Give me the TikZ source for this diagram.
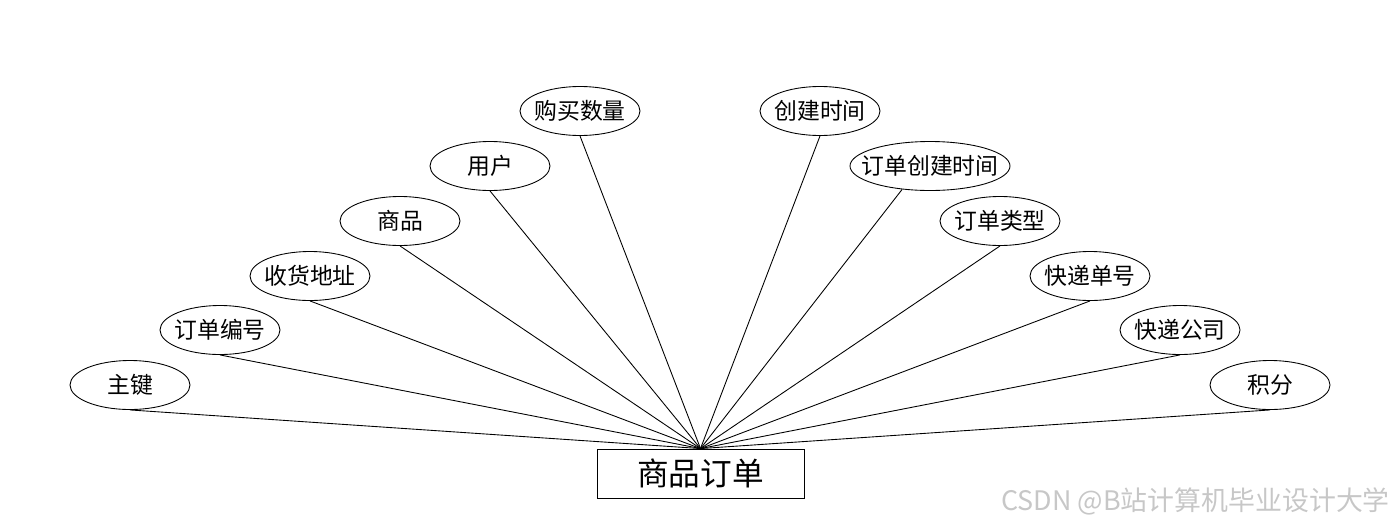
\documentclass[tikz,border=0pt]{standalone}
\usepackage{fontspec}
\newfontfamily\cjk{Noto Sans CJK SC}
\usetikzlibrary{positioning,shapes.geometric}

\begin{document}
\begin{tikzpicture}[
    attr/.style={draw, ellipse, line width=0.5pt, minimum width=2.4cm, minimum height=0.98cm,
      inner sep=0pt, font=\cjk\fontsize{13}{15}\selectfont},
    entity/.style={draw, rectangle, line width=0.5pt, minimum width=4.14cm, minimum height=0.98cm,
      inner sep=0pt, font=\cjk\fontsize{18}{20}\selectfont},
    link/.style={line width=0.5pt}
  ]
  % frame
  \useasboundingbox (0,0) rectangle (28,-10.56);

  % entity
  \node[entity] (order) at (14.01,-9.47) {商品订单};

  % attributes (left fan, then right fan), all of one size
  \foreach \n/\t/\x/\y in {
      key/主键/2.6/-7.7,
      orderno/订单编号/4.4/-6.6,
      address/收货地址/6.2/-5.52,
      goods/商品/8.0/-4.42,
      user/用户/9.8/-3.32,
      amount/购买数量/11.6/-2.22,
      created/创建时间/16.4/-2.22,
      ordertype/订单类型/20.0/-4.42,
      expressno/快递单号/21.8/-5.52,
      express/快递公司/23.6/-6.6,
      points/积分/25.4/-7.7} {
    \node[attr] (\n) at (\x,\y) {\makebox[0pt]{\t}};
    \draw[link] (\n.south) -- (order.north);
  }

  % the one wider attribute, joined off-centre
  \node[attr, minimum width=3.2cm] (ordertime) at (18.6,-3.32) {\makebox[0pt]{订单创建时间}};
  \draw[link] (ordertime.220) -- (order.north);

  % watermark
  \node[anchor=east, text=black!22, font=\cjk\fontsize{15.3}{17}\selectfont] (mark) at (27.92,-10.02)
    {CSDN @B站计算机毕业设计大学};
\end{tikzpicture}
\end{document}
